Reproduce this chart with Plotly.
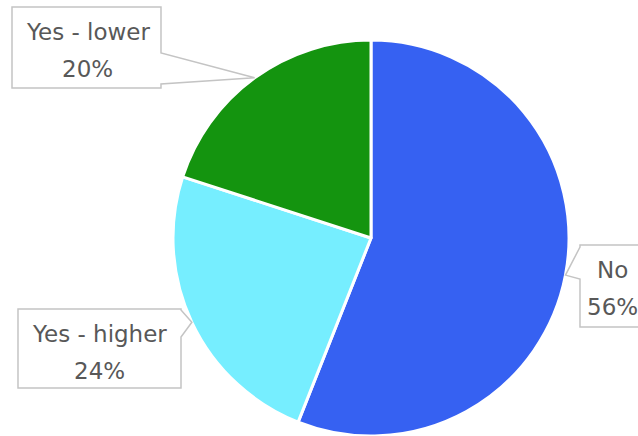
import math
import plotly.graph_objects as go

# --- data -------------------------------------------------------------
labels = ["No", "Yes - higher", "Yes - lower"]
values = [56, 24, 20]
colors = ["#3661F2", "#76EEFF", "#14940F"]

# --- canvas / pie geometry (pixels) ----------------------------------
W, H = 638, 436
CX, CY, R = 371, 238, 198

# callout boxes: x0, y0, x1, y1, tail side, tail base start/end, text centre x
callouts = {
    "Yes - lower": dict(box=(12, 7, 161, 88), side="right", base=(53, 84), tx=87.5),
    "No": dict(box=(580, 245, 644, 327), side="left", base=(247, 279), tx=612),
    "Yes - higher": dict(box=(18, 309, 181, 388), side="right", base=(310, 337), tx=99.5),
}


def px(x):
    return x / W


def py(y):
    return 1 - y / H


def clamp(v):
    return min(1.0, max(0.0, v))


fig = go.Figure(
    go.Pie(
        labels=labels,
        values=values,
        marker=dict(colors=colors, line=dict(color="white", width=3)),
        sort=False,
        direction="clockwise",
        rotation=0,
        textinfo="none",
        hoverinfo="label+percent",
        showlegend=False,
        domain=dict(
            x=[clamp((CX - R) / W), clamp((CX + R) / W)],
            y=[clamp((H - CY - R) / H), clamp((H - CY + R) / H)],
        ),
    )
)

total = sum(values)
shapes, annotations = [], []
cum = 0.0
for lab, val in zip(labels, values):
    mid = (cum + val / 2) / total * 2 * math.pi
    cum += val
    # tip of the callout sits on the slice edge at its mid-angle
    tipx = CX + R * math.sin(mid)
    tipy = CY - R * math.cos(mid)
    c = callouts[lab]
    x0, y0, x1, y1 = c["box"]
    b0, b1 = c["base"]
    if c["side"] == "right":
        pts = [(x0, y0), (x1, y0), (x1, b0), (tipx, tipy), (x1, b1), (x1, y1), (x0, y1)]
    else:
        pts = [(x0, y0), (x1, y0), (x1, y1), (x0, y1), (x0, b1), (tipx, tipy), (x0, b0)]
    path = "M " + " L ".join(f"{px(a):.5f},{py(b):.5f}" for a, b in pts) + " Z"
    shapes.append(
        dict(type="path", xref="paper", yref="paper", path=path,
             fillcolor="white", line=dict(color="#C4C4C4", width=1.5), layer="above")
    )
    pct = f"{round(val / total * 100)}%"
    for txt, dy in ((lab, 25), (pct, 62)):
        annotations.append(
            dict(text=txt, x=px(c["tx"]), y=py(y0 + dy), xref="paper", yref="paper",
                 xanchor="center", yanchor="middle", showarrow=False,
                 font=dict(family="DejaVu Sans", size=23, color="#585858"))
        )

fig.update_layout(
    width=W,
    height=H,
    margin=dict(l=0, r=0, t=0, b=0),
    paper_bgcolor="white",
    plot_bgcolor="white",
    shapes=shapes,
    annotations=annotations,
)

fig.write_html("out.html")
